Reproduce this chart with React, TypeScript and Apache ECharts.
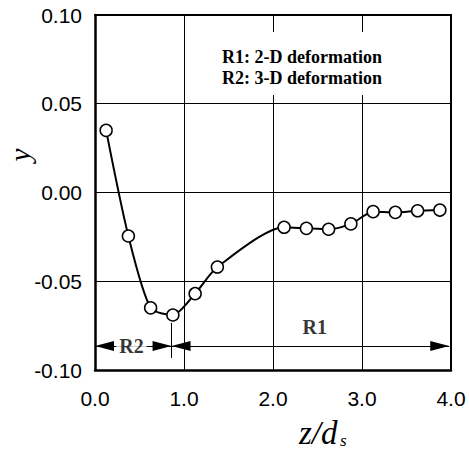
import React, { useEffect, useRef } from "react";
import * as echarts from "echarts";

// Measured points: z/d_s and y
const zValues = [0.125, 0.375, 0.625, 0.875, 1.125, 1.375, 2.125, 2.375, 2.625, 2.875, 3.125, 3.375, 3.625, 3.875];
const yValues = [0.035, -0.0245, -0.065, -0.069, -0.057, -0.042, -0.0196, -0.0202, -0.0207, -0.0177, -0.0108, -0.0112, -0.0103, -0.0099];

// Region annotation
const regionBounds = [0, 0.86, 3.98];
const arrowLevel = -0.0865;
const dividerRange = [-0.0735, -0.0932];
const regionLabels: [number, number, string][] = [
  [0.41, -0.0862, "R2"],
  [2.47, -0.0758, "R1"],
];
const legendLines = ["R1: 2-D deformation", "R2: 3-D deformation"];

const xRange = [0, 4];
const xStep = 1;
const yRange = [-0.1, 0.1];
const yStep = 0.05;

export default function App() {
  const ref = useRef<HTMLDivElement>(null);
  useEffect(() => {
    document.body.style.margin = "0";
    const chart = echarts.init(ref.current!, null, { renderer: "svg" });
    const serif = "'Liberation Serif', 'Times New Roman', serif";
    const sans = "'Liberation Sans', Arial, sans-serif";
    const headW = 10;
    const headL = 19;
    const arrowEnd = (x: number, y: number) => ({
      coord: [x, y],
      symbol: "triangle",
      symbolSize: [headW, headL],
      symbolOffset: [0, headL / 2],
    });
    chart.setOption({
      animation: false,
      grid: { left: 95, right: 18, top: 15, bottom: 79 },
      xAxis: [
        {
          type: "value",
          min: xRange[0],
          max: xRange[1],
          interval: xStep,
          axisLine: { show: true, onZero: false, lineStyle: { color: "#000", width: 2.5 } },
          axisTick: { show: false },
          axisLabel: {
            color: "#000",
            fontFamily: sans,
            fontSize: 21,
            margin: 18,
            formatter: (v: number) => v.toFixed(1),
          },
          splitLine: { show: true, lineStyle: { color: "#000", width: 1 } },
        },
        {
          type: "value",
          position: "top",
          min: xRange[0],
          max: xRange[1],
          interval: xStep,
          axisLine: { show: true, onZero: false, lineStyle: { color: "#000", width: 2 } },
          axisTick: { show: false },
          axisLabel: { show: false },
          splitLine: { show: false },
        },
      ],
      yAxis: [
        {
          type: "value",
          min: yRange[0],
          max: yRange[1],
          interval: yStep,
          axisLine: { show: true, onZero: false, lineStyle: { color: "#000", width: 2.5 } },
          axisTick: { show: false },
          axisLabel: {
            color: "#000",
            fontFamily: sans,
            fontSize: 21,
            margin: 13,
            padding: [5, 0, 0, 0],
            formatter: (v: number) => v.toFixed(2),
          },
          splitLine: { show: true, lineStyle: { color: "#000", width: 1 } },
        },
        {
          type: "value",
          position: "right",
          min: yRange[0],
          max: yRange[1],
          interval: yStep,
          axisLine: { show: true, onZero: false, lineStyle: { color: "#000", width: 2 } },
          axisTick: { show: false },
          axisLabel: { show: false },
          splitLine: { show: false },
        },
      ],
      series: [
        {
          type: "line",
          data: zValues.map((z, i) => [z, yValues[i]]),
          smooth: 0.25,
          symbol: "circle",
          symbolSize: 12,
          itemStyle: { color: "#fff", borderColor: "#000", borderWidth: 1.5 },
          lineStyle: { color: "#000", width: 2 },
          z: 5,
          silent: true,
          markLine: {
            silent: true,
            symbol: "none",
            lineStyle: { color: "#000", width: 1, type: "solid" },
            itemStyle: { color: "#000" },
            label: { show: false },
            emphasis: { disabled: true },
            data: [
              [arrowEnd(regionBounds[0], arrowLevel), arrowEnd(regionBounds[1], arrowLevel)],
              [arrowEnd(regionBounds[1], arrowLevel), arrowEnd(regionBounds[2], arrowLevel)],
              [
                { coord: [regionBounds[1], dividerRange[0]], symbol: "none" },
                { coord: [regionBounds[1], dividerRange[1]], symbol: "none" },
              ],
            ],
          },
        },
        {
          type: "scatter",
          data: regionLabels,
          symbolSize: 1,
          itemStyle: { color: "transparent" },
          silent: true,
          z: 10,
          label: {
            show: true,
            position: "inside",
            formatter: (p: any) => p.data[2],
            color: "#000",
            fontFamily: serif,
            fontWeight: "bold",
            fontSize: 20,
            backgroundColor: "#fff",
            padding: [0, 3],
          },
        },
      ],
      graphic: [
        { type: "rect", shape: { x: 220, y: 32, width: 167, height: 63 }, style: { fill: "#fff" }, z: 10 },
        {
          type: "text",
          x: 222,
          y: 57,
          z: 11,
          style: { text: legendLines[0], fontFamily: serif, fontWeight: "bold", fontSize: 18, fill: "#000", verticalAlign: "middle" },
        },
        {
          type: "text",
          x: 222,
          y: 78,
          z: 11,
          style: { text: legendLines[1], fontFamily: serif, fontWeight: "bold", fontSize: 18, fill: "#000", verticalAlign: "middle" },
        },
        {
          type: "text",
          x: 20,
          y: 155,
          rotation: Math.PI / 2,
          z: 11,
          style: { text: "y", fontFamily: serif, fontStyle: "italic", fontSize: 29, fill: "#000", align: "center", verticalAlign: "middle" },
        },
        {
          type: "text",
          x: 299,
          y: 449,
          z: 11,
          style: { text: "z/d", fontFamily: serif, fontStyle: "italic", fontSize: 33, fill: "#000", verticalAlign: "bottom" },
        },
        {
          type: "text",
          x: 340,
          y: 449,
          z: 11,
          style: { text: "s", fontFamily: serif, fontStyle: "italic", fontSize: 17, fill: "#000", verticalAlign: "bottom" },
        },
      ],
    });
    return () => chart.dispose();
  }, []);
  return <div ref={ref} style={{ width: 469, height: 449 }} />;
}
